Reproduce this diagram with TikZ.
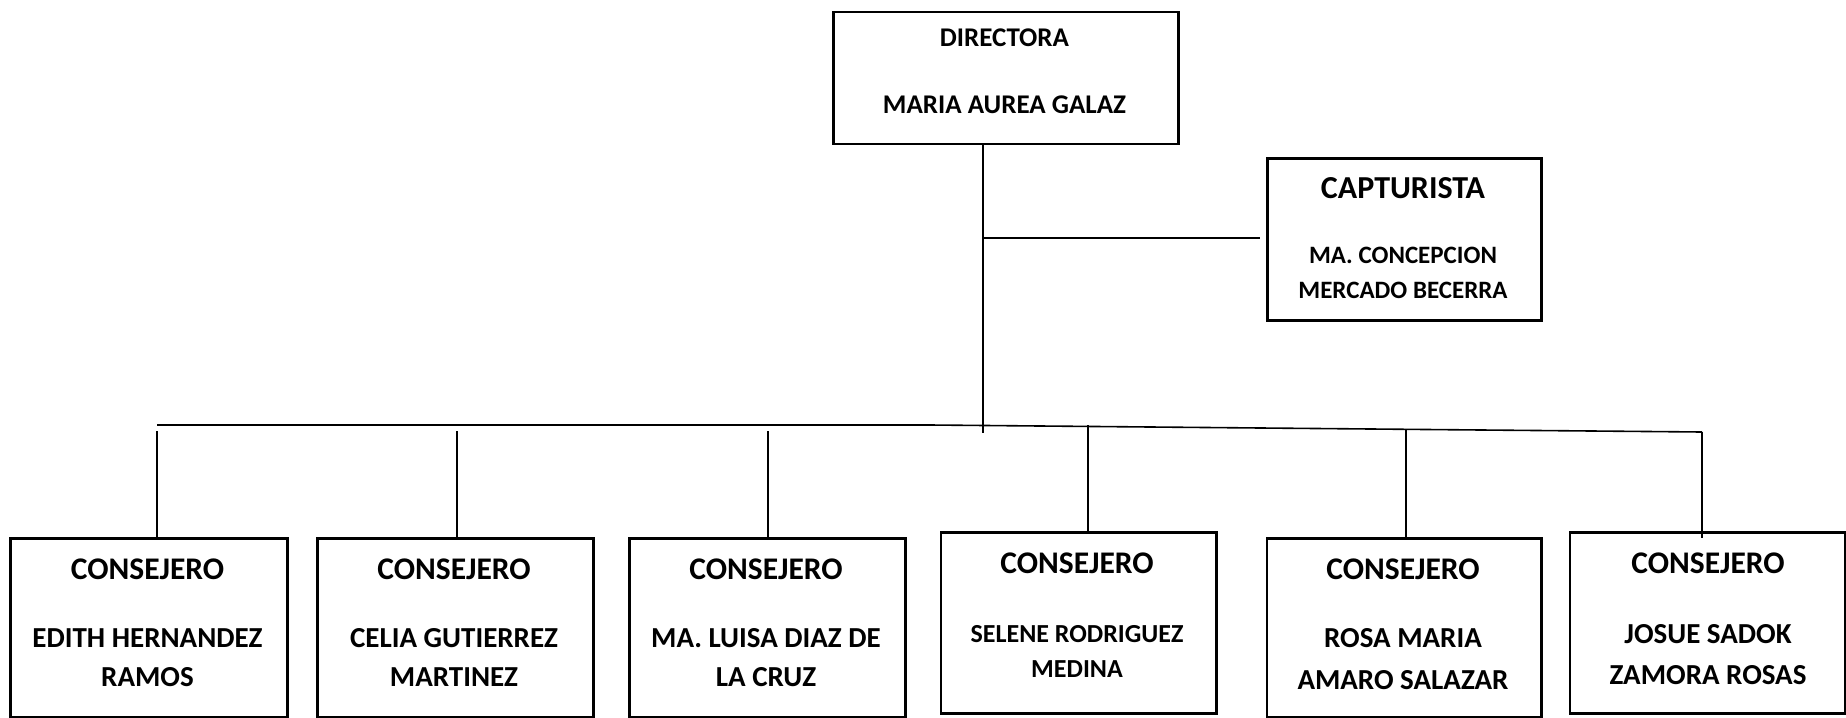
\documentclass[tikz,border=0pt]{standalone}
\usepackage{fontspec}
\setmainfont{Carlito}
\begin{document}
\begin{tikzpicture}[x=1pt,y=-1pt,
  box/.style={draw,line width=2.6pt,inner sep=0pt,anchor=north west},
  conn/.style={line width=1.6pt},
  lbl/.style={inner sep=0pt,anchor=base},
  fa/.style={lbl,font=\bfseries\fontsize{31.5}{31.5}\selectfont},
  fb/.style={lbl,font=\bfseries\fontsize{29}{29}\selectfont},
  fc/.style={lbl,font=\bfseries\fontsize{26}{26}\selectfont},
  fd/.style={lbl,font=\bfseries\fontsize{29}{29}\selectfont},
  fe/.style={lbl,font=\bfseries\fontsize{27}{27}\selectfont},
  ff/.style={lbl,font=\bfseries\fontsize{32}{32}\selectfont},
  fg/.style={lbl,font=\bfseries\fontsize{25}{25}\selectfont},
]
\useasboundingbox (0,0) rectangle (1846,717);
% boxes
\node[box,minimum width=345pt,minimum height=132pt] (dir) at (832,10.6) {};
\node[box,minimum width=274pt,minimum height=162pt] (cap) at (1266,157) {};
\node[box,minimum width=277pt,minimum height=179pt] (b1) at (9,537) {};
\node[box,minimum width=276pt,minimum height=179pt] (b2) at (316,537) {};
\node[box,minimum width=276pt,minimum height=179pt] (b3) at (628,537) {};
\node[box,minimum width=275.5pt,minimum height=181pt] (b4) at (939.5,531) {};
\node[box,minimum width=274.5pt,minimum height=179pt] (b5) at (1265.5,537) {};
\node[box,minimum width=275.5pt,minimum height=181pt] (b6) at (1568.5,531) {};
% texts
\node[fe] (t0a) at (1004.5,47) {DIRECTORA};
\node[fe] (t0b) at (1004.5,113) {MARIA AUREA GALAZ};
\node[ff] (tca) at (1403,198) {CAPTURISTA};
\node[fg] (tcb) at (1403,263) {MA. CONCEPCION};
\node[fg] (tcc) at (1403,298) {MERCADO BECERRA};
\node[fa] (t1a) at (147.5,579) {CONSEJERO};
\node[fb] (t1b) at (147.5,647) {EDITH HERNANDEZ};
\node[fb] (t1c) at (147.5,686) {RAMOS};
\node[fa] (t2a) at (454,579) {CONSEJERO};
\node[fb] (t2b) at (454,647) {CELIA GUTIERREZ};
\node[fb] (t2c) at (454,686) {MARTINEZ};
\node[fa] (t3a) at (766,579) {CONSEJERO};
\node[fb] (t3b) at (766,647) {MA. LUISA DIAZ DE};
\node[fb] (t3c) at (766,686) {LA CRUZ};
\node[fa] (t4a) at (1077,573) {CONSEJERO};
\node[fc] (t4b) at (1077,642) {SELENE RODRIGUEZ};
\node[fc] (t4c) at (1077,677) {MEDINA};
\node[fa] (t5a) at (1403,579) {CONSEJERO};
\node[fd] (t5b) at (1403,647) {ROSA MARIA};
\node[fd] (t5c) at (1403,689) {AMARO SALAZAR};
\node[fa] (t6a) at (1708,573) {CONSEJERO};
\node[fd] (t6b) at (1708,643) {JOSUE SADOK};
\node[fd] (t6c) at (1708,684) {ZAMORA ROSAS};
% connectors
\coordinate (hub) at (983,433);
\coordinate (capj) at (983,238);
\draw[conn] (dir.south -| hub) -- (hub);
\draw[conn] (capj) -- ([xshift=-6pt]cap.west |- capj);
\coordinate (busL) at (157,425);
\coordinate (busM) at (930,425);
\coordinate (busR) at (1702,432);
\draw[conn] (busL) -- (busM) -- (busR);
\coordinate (d1) at (157,431);
\coordinate (d2) at (457,431);
\coordinate (d3) at (768,431);
\coordinate (d4) at (1088,425);
\coordinate (d5) at (1406,430);
\coordinate (d6) at (1702,432);
\coordinate (e6) at (1702,538);
\draw[conn] (d1) -- (d1 |- b1.north);
\draw[conn] (d2) -- (d2 |- b2.north);
\draw[conn] (d3) -- (d3 |- b3.north);
\draw[conn] (d4) -- (d4 |- b4.north);
\draw[conn] (d5) -- (d5 |- b5.north);
\draw[conn] (d6) -- (e6);
\end{tikzpicture}
\end{document}
